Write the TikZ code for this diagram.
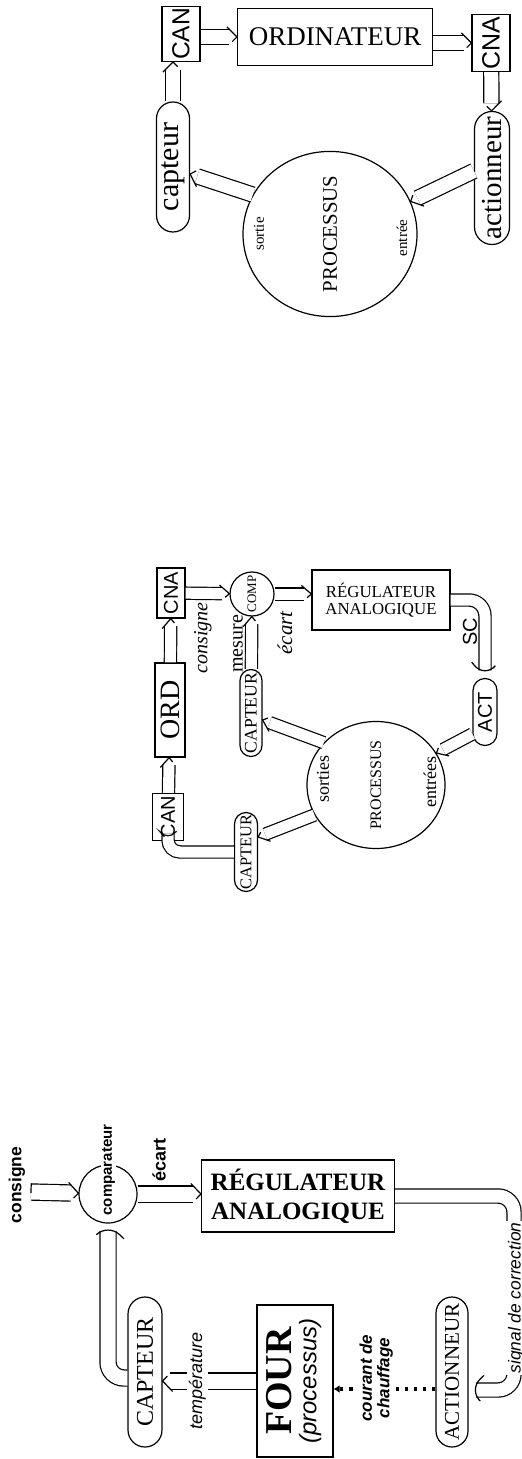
\documentclass[tikz,border=0pt]{standalone}
\usepackage{fontspec}
\setmainfont{Liberation Serif}
\setsansfont{Liberation Sans}
\usepackage{graphicx}
\usetikzlibrary{arrows.meta}
\usetikzlibrary{shapes.geometric}
\usetikzlibrary{decorations.markings}
\newcommand{\vtxt}[1]{\rotatebox{90}{#1}}
\newcommand{\vtwo}[2]{\rotatebox{90}{\begin{tabular}{@{}c@{}}#1\\#2\end{tabular}}}
\newcommand{\fsz}[1]{\fontsize{#1pt}{#1pt}\selectfont}

\begin{document}
\begin{tikzpicture}[x=0.5pt, y=-0.5pt, line width=0.6pt,
        box/.style = {draw, inner sep=0pt, align=center},
        pill/.style = {draw, inner sep=0pt, rounded corners=#1},
        pipe/.style = {double, double distance=#1, shorten >=3.75pt,
            postaction={decorate, decoration={markings, mark=at position 1 with
                {\draw[line width=0.6pt] (-5pt,{#1/2+1.5pt}) -- (0,0) -- (-5pt,{-#1/2-1.5pt});}}}},
        closed/.style = {postaction={decorate, decoration={markings, mark=at position 0 with
                {\draw[line width=0.6pt] (0,{#1/2+0.6pt}) -- (0,{-#1/2-0.6pt});}}}},
        lbl/.style = {inner sep=1pt},
        mask/.style = {fill=white, inner sep=1pt},
        dots/.style = {line width=2.2pt, dash pattern=on 1.6pt off 3pt, -{Latex[length=3pt, width=4pt]}}]
    \useasboundingbox (0,0) rectangle (522,1459);

    \node[box, minimum width=96.5pt, minimum height=36pt, font=\bfseries\fsz{12.5}] (reg1) at (298,1196) {RÉGULATEUR\\[2pt]ANALOGIQUE};
    \node[draw, circle, minimum size=29pt, inner sep=0pt] (comp1) at (108,1194) {};
    \node[mask, inner sep=0.5pt, font=\sffamily\bfseries\fsz{7.5}] (compt1) at (108.5,1170) {\vtxt{comparateur}};
    \node[lbl, font=\sffamily\bfseries\fsz{8.7}] (const1) at (17,1185) {\vtxt{consigne}};
    \node[lbl, font=\sffamily\bfseries\fsz{9}] (ecart1) at (159,1160) {\vtxt{écart}};
    \node[box, minimum width=38pt, minimum height=76pt] (four1) at (295,1381) {\vtwo{\bfseries\fsz{19}FOUR}{\sffamily\itshape\fsz{12}(processus)}};
    \node[pill=8.5pt, minimum width=17pt, minimum height=75pt, font=\fsz{12}] (cap1) at (145,1372) {\vtxt{CAPTEUR}};
    \node[pill=8pt, minimum width=16pt, minimum height=75pt, font=\fsz{10.5}] (act1) at (452,1372) {\vtxt{ACTIONNEUR}};
    \coordinate (in1) at (31,1192);
    \draw (in1) [pipe=7.5pt, closed=7.5pt] -- (comp1);
    \draw (comp1.east) [pipe=7.5pt] -- (comp1.east -| reg1.west);
    \draw (reg1.east) [pipe=6.5pt, rounded corners=8pt] -- (514,1196) -- (514,1390) -- ([yshift=-9pt]act1.east);
    \node[mask, font=\sffamily\itshape\fsz{8.7}] (sig1) at (516,1298) {\vtxt{signal de correction}};
    \draw ([yshift=-8.5pt]act1.west) [dots] -- ([yshift=-4pt]four1.east);
    \node[mask, font=\sffamily\bfseries\itshape\fsz{8.5}] (cour1) at (377,1378) {\vtwo{courant de}{chauffage}};
    \draw (four1.west) [pipe=7.5pt] -- (four1.west -| cap1.east) node[pos=0.63, mask, font=\sffamily\itshape\fsz{9}] (temp1) {\vtxt{température}};
    \draw ([yshift=-3pt]cap1.west) [pipe=7.5pt, rounded corners=8pt] -| (comp1.south);

    \node[box, minimum width=14pt, minimum height=25pt, font=\sffamily\fsz{10}] (cna2) at (171,593) {\vtxt{CNA}};
    \node[draw, circle, minimum size=22pt, inner sep=0pt, font=\fsz{6.5}] (comp2) at (252,594) {\vtxt{COMP}};
    \node[box, minimum width=69pt, minimum height=30pt, font=\fsz{8.4}] (reg2) at (381,600) {RÉGULATEUR\\ANALOGIQUE};
    \node[pill=6pt, minimum width=12pt, minimum height=33.5pt, font=\sffamily\fsz{10}] (act2) at (485,712) {\vtxt{ACT}};
    \node[draw, ellipse, minimum width=69pt, minimum height=57pt, inner sep=0pt, font=\fsz{8}] (proc2) at (376,785) {\vtxt{PROCESSUS}};
    \node[lbl, font=\fsz{9}] (sort2) at (323,779) {\vtxt{sorties}};
    \node[lbl, font=\fsz{9}] (entr2) at (430,782) {\vtxt{entrées}};
    \node[pill=5.5pt, minimum width=11pt, minimum height=43.5pt, font=\fsz{8.8}] (capu2) at (251,713) {\vtxt{CAPTEUR}};
    \node[pill=5.75pt, minimum width=11.5pt, minimum height=39.5pt, font=\fsz{8.2}] (capl2) at (246,852) {\vtxt{CAPTEUR}};
    \node[box, minimum width=15.5pt, minimum height=23.5pt, font=\sffamily\fsz{10}] (can2) at (168,817) {\vtxt{CAN}};
    \node[box, minimum width=15pt, minimum height=47pt, font=\fsz{14}] (ord2) at (170,710) {\vtxt{ORD}};
    \node[lbl, font=\itshape\fsz{10}] (cons2) at (203,638) {\vtxt{consigne}};
    \node[lbl, font=\fsz{10}] (mes2) at (238,644) {\vtxt{mesure}};
    \node[lbl, font=\itshape\fsz{10.5}] (ecart2) at (285,633) {\vtxt{écart}};
    \node[lbl, font=\sffamily\fsz{10}] (sc2) at (470,632) {\vtxt{SC}};
    \draw (cna2) [pipe=5.5pt] -- (comp2);
    \draw (comp2.east) [pipe=5.5pt] -- (comp2.east -| reg2.west);
    \draw (reg2.east) [pipe=5.5pt, rounded corners=8pt] -| (act2.north);
    \draw ([yshift=-11pt]act2.west) [pipe=5.5pt] -- (proc2);
    \draw (proc2.141) [pipe=5.5pt] -- ([yshift=-3.5pt]capu2.east);
    \draw (capu2) [pipe=5.5pt] -- (comp2);
    \draw (proc2.206) [pipe=5.5pt] -- ([yshift=7.5pt]capl2.east);
    \draw (capl2.west) [pipe=5.5pt, rounded corners=6pt] -| (can2.south);
    \draw (can2) [pipe=5.5pt] -- (ord2);
    \draw (ord2) [pipe=5.5pt] -- (cna2);

    \node[box, minimum width=19pt, minimum height=27.5pt, font=\sffamily\fsz{12.3}] (can3) at (181,34) {\vtxt{CAN}};
    \node[box, minimum width=97.5pt, minimum height=28.5pt, font=\fsz{13.5}] (ord3) at (335,37) {ORDINATEUR};
    \node[box, minimum width=19pt, minimum height=28.5pt, font=\sffamily\fsz{12.5}] (cna3) at (491,43) {\vtxt{CNA}};
    \node[pill=8.75pt, minimum width=17.5pt, minimum height=66.5pt, font=\fsz{14.5}] (act3) at (492,178) {\vtxt{actionneur}};
    \node[draw, ellipse, minimum width=87pt, minimum height=72.5pt, inner sep=0pt, font=\fsz{10.4}] (proc3) at (330,234) {\vtxt{PROCESSUS}};
    \node[lbl, font=\fsz{7.5}] (sort3) at (259,234) {\vtxt{sortie}};
    \node[lbl, font=\fsz{7.5}] (entr3) at (402,238) {\vtxt{entrée}};
    \node[pill=8.25pt, minimum width=16.5pt, minimum height=65pt, font=\fsz{15}] (cap3) at (173,167) {\vtxt{capteur}};
    \draw (ord3.west -| can3.east) [pipe=7pt] -- (ord3.west);
    \draw (cna3.west -| ord3.east) [pipe=7pt] -- (cna3.west);
    \draw (cna3) [pipe=7pt] -- (act3);
    \draw ([yshift=3.5pt]act3.west) [pipe=7pt] -- (proc3.22);
    \draw (proc3.153) [pipe=7pt] -- ([yshift=-3.5pt]cap3.east);
    \draw (cap3.north) [pipe=7pt] -- (cap3.north |- can3.south);
\end{tikzpicture}
\end{document}
